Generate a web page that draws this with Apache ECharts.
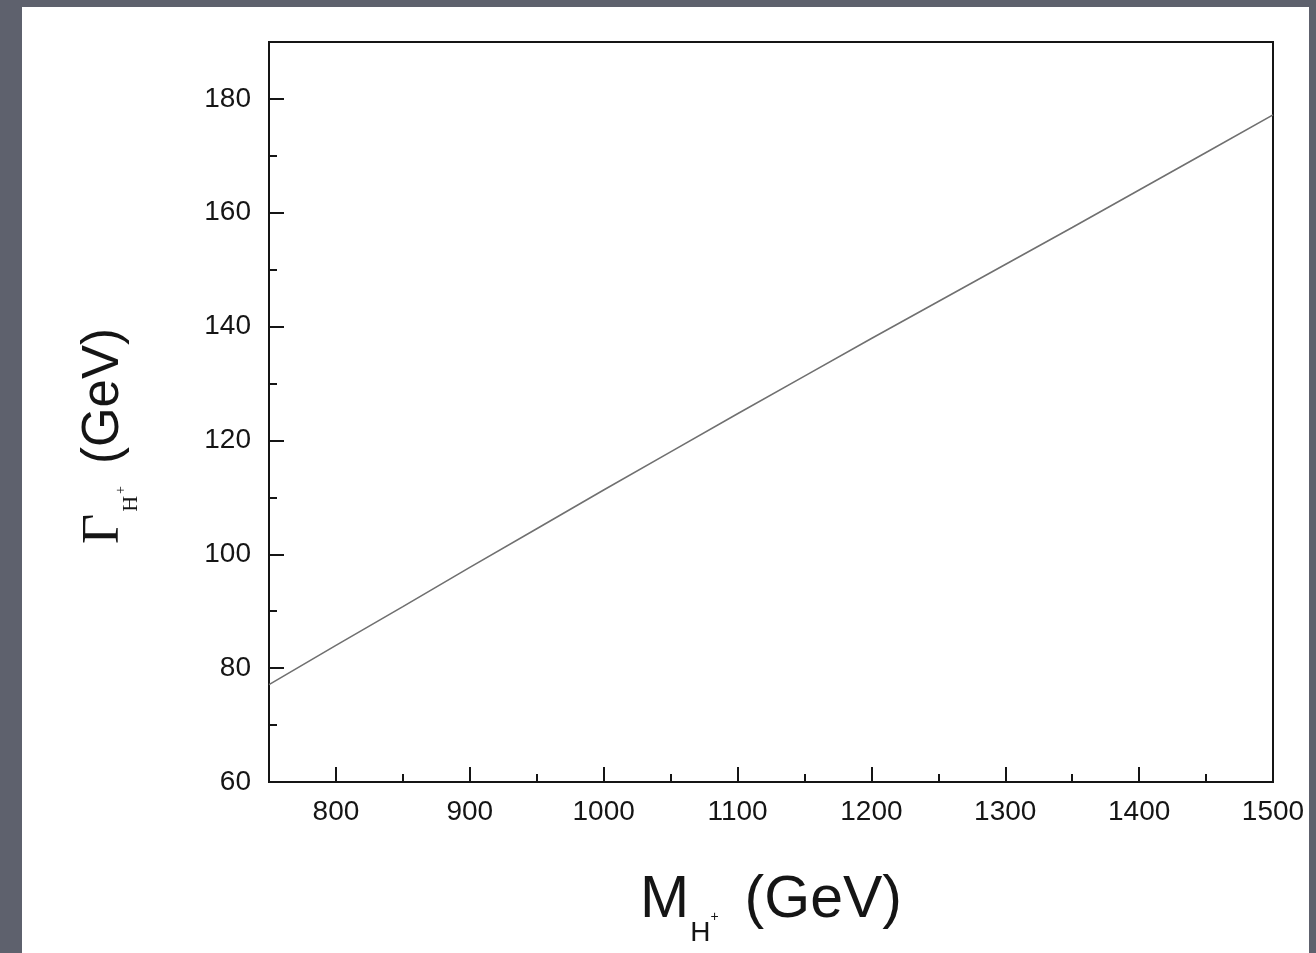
<!DOCTYPE html>
<html>
<head>
<meta charset="utf-8">
<script src="https://cdn.jsdelivr.net/npm/echarts@6/dist/echarts.min.js"></script>
<style>
  html, body { margin: 0; padding: 0; width: 1316px; height: 953px; overflow: hidden; background: #5e616d; }
  #panel { position: absolute; left: 22px; top: 7px; width: 1287px; height: 946px; background: #fff; }
  #chart { position: absolute; left: 0; top: 0; width: 1316px; height: 953px; }
</style>
</head>
<body>
<div id="panel"></div>
<div id="chart"></div>
<script>
// charged Higgs total width vs mass
var massGeV = [750, 800, 850, 900, 950, 1000, 1050, 1100, 1150, 1200, 1250, 1300, 1350, 1400, 1450, 1500];
var widthGeV = [77.1, 84.0, 90.8, 97.7, 104.5, 111.3, 118.0, 124.7, 131.3, 137.9, 144.4, 150.9, 157.4, 164.0, 170.6, 177.2];

var xMajorTicks = [800, 900, 1000, 1100, 1200, 1300, 1400, 1500];
var xMinorTicks = [850, 950, 1050, 1150, 1250, 1350, 1450];
var yMajorTicks = [60, 80, 100, 120, 140, 160, 180];
var yMinorTicks = [70, 90, 110, 130, 150, 170];

var ink = '#151515';
var sans = '"Liberation Sans", Arial, sans-serif';
var serif = '"Liberation Serif", "Times New Roman", serif';

var points = [];
for (var i = 0; i < massGeV.length; i++) {
    points.push([massGeV[i], widthGeV[i]]);
}

function plain(v) { return String(v); }

var chart = echarts.init(document.getElementById('chart'));
chart.setOption({
    animation: false,
    backgroundColor: 'transparent',
    grid: {
        left: 269, top: 42, width: 1004, height: 740,
        show: true, borderColor: ink, borderWidth: 2,
        containLabel: false, outerBoundsMode: 'none'
    },
    xAxis: [{
        type: 'value', min: 750, max: 1500, position: 'bottom',
        axisLine: { show: true, lineStyle: { color: ink, width: 2 } },
        axisTick: { show: true, inside: true, length: 15, customValues: xMajorTicks, lineStyle: { color: ink, width: 2 } },
        axisLabel: { margin: 16, customValues: xMajorTicks, formatter: plain, color: ink, fontFamily: sans, fontSize: 28 },
        splitLine: { show: false },
        name: '{m|M}{s|H}{p|+}{t|(GeV)}',
        nameLocation: 'middle',
        nameGap: 89,
        nameTextStyle: {
            rich: {
                m: { fontFamily: sans, fontSize: 59, color: ink, lineHeight: 60, verticalAlign: 'top' },
                s: { fontFamily: sans, fontSize: 28, color: ink, lineHeight: 28, padding: [48, 0, 0, 1], verticalAlign: 'top' },
                p: { fontFamily: sans, fontSize: 14, color: ink, lineHeight: 14, padding: [39, 0, 0, 0], verticalAlign: 'top' },
                t: { fontFamily: sans, fontSize: 59, color: ink, lineHeight: 60, padding: [0, 0, 0, 26], verticalAlign: 'top' }
            }
        }
    }, {
        type: 'value', min: 750, max: 1500, position: 'bottom', gridIndex: 0,
        axisLine: { show: false },
        axisTick: { show: true, inside: true, length: 8, customValues: xMinorTicks, lineStyle: { color: ink, width: 2 } },
        axisLabel: { show: false },
        splitLine: { show: false }
    }],
    yAxis: [{
        type: 'value', min: 60, max: 190, position: 'left',
        axisLine: { show: true, lineStyle: { color: ink, width: 2 } },
        axisTick: { show: true, inside: true, length: 15, customValues: yMajorTicks, lineStyle: { color: ink, width: 2 } },
        axisLabel: { margin: 18, customValues: yMajorTicks, formatter: plain, color: ink, fontFamily: sans, fontSize: 28 },
        splitLine: { show: false },
        name: '{g|Γ}{s|H}{p|+}{t|(GeV)}',
        nameLocation: 'middle',
        nameRotate: 90,
        nameGap: 135,
        nameTextStyle: {
            rich: {
                g: { fontFamily: serif, fontSize: 52, color: ink, lineHeight: 56, verticalAlign: 'top' },
                s: { fontFamily: serif, fontSize: 22, color: ink, lineHeight: 22, padding: [42, 0, 0, 2], verticalAlign: 'top' },
                p: { fontFamily: serif, fontSize: 14, color: ink, lineHeight: 14, padding: [36, 0, 0, 2], verticalAlign: 'top' },
                t: { fontFamily: sans, fontSize: 51, color: ink, lineHeight: 56, padding: [0, 48, 0, 22], verticalAlign: 'top' }
            }
        }
    }, {
        type: 'value', min: 60, max: 190, position: 'left', gridIndex: 0,
        axisLine: { show: false },
        axisTick: { show: true, inside: true, length: 8, customValues: yMinorTicks, lineStyle: { color: ink, width: 2 } },
        axisLabel: { show: false },
        splitLine: { show: false }
    }],
    series: [{
        type: 'line',
        xAxisIndex: 0,
        yAxisIndex: 0,
        data: points,
        symbol: 'none',
        smooth: false,
        lineStyle: { color: '#707070', width: 1.6 }
    }]
});
</script>
</body>
</html>
